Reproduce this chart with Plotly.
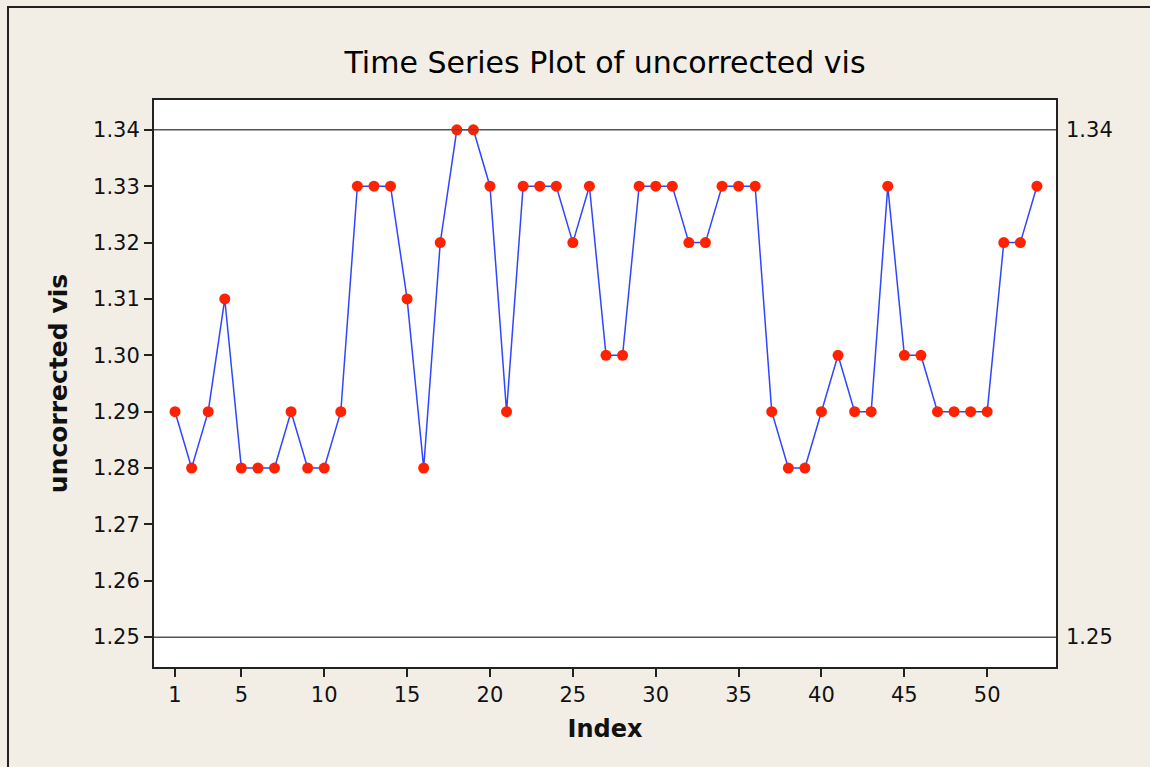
import plotly.graph_objects as go

index = list(range(1, 54))
values = [1.29, 1.28, 1.29, 1.31, 1.28, 1.28, 1.28, 1.29, 1.28, 1.28,
          1.29, 1.33, 1.33, 1.33, 1.31, 1.28, 1.32, 1.34, 1.34, 1.33,
          1.29, 1.33, 1.33, 1.33, 1.32, 1.33, 1.30, 1.30, 1.33, 1.33,
          1.33, 1.32, 1.32, 1.33, 1.33, 1.33, 1.29, 1.28, 1.28, 1.29,
          1.30, 1.29, 1.29, 1.33, 1.30, 1.30, 1.29, 1.29, 1.29, 1.29,
          1.32, 1.32, 1.33]
x_ticks = [1, 5, 10, 15, 20, 25, 30, 35, 40, 45, 50]
y_ticks = [1.25, 1.26, 1.27, 1.28, 1.29, 1.30, 1.31, 1.32, 1.33, 1.34]
ref_lines = [1.34, 1.25]

FONT = "DejaVu Sans"
BG = "#F2EEE6"

fig = go.Figure()
fig.add_trace(go.Scatter(
    x=index, y=values, mode="lines+markers",
    line=dict(color="#2F45FF", width=1.5),
    marker=dict(color="#FF2200", size=11, symbol="circle"),
    showlegend=False,
))

for r in ref_lines:
    fig.add_shape(type="line", xref="paper", x0=0, x1=1, yref="y", y0=r, y1=r,
                  line=dict(color="#555555", width=1.5))
    fig.add_annotation(xref="paper", x=1, xanchor="left", xshift=8,
                       yref="y", y=r, text=f"{r:.2f}", showarrow=False,
                       font=dict(family=FONT, size=21, color="#111111"))

# outer frame
fig.add_shape(type="rect", xref="paper", yref="paper",
              x0=(8 - 154) / 902, x1=(1170 - 154) / 902,
              y0=-(787 - 667) / 567, y1=1 + (100 - 7) / 567,
              line=dict(color="#222222", width=2), fillcolor="rgba(0,0,0,0)",
              layer="below")

fig.update_layout(
    width=1150, height=767,
    margin=dict(l=154, r=94, t=100, b=100),
    paper_bgcolor=BG, plot_bgcolor="white",
    title=dict(text="Time Series Plot of uncorrected vis", x=0.5, xanchor="center",
               xref="paper", y=1 - 62 / 767, yanchor="middle",
               font=dict(family=FONT, size=30, color="#000000")),
    xaxis=dict(range=[-0.27, 54.15], tickvals=x_ticks, ticks="outside", ticklen=8,
               tickcolor="#222222", tickwidth=1.5, showgrid=False, zeroline=False,
               showline=True, linecolor="#222222", linewidth=2, mirror=True,
               tickfont=dict(family=FONT, size=21, color="#111111"),
               title=dict(text="<b>Index</b>", standoff=14,
                          font=dict(family=FONT, size=24, color="#111111"))),
    yaxis=dict(range=[1.2447, 1.3453], tickvals=y_ticks, tickformat=".2f",
               ticks="outside", ticklen=8, tickcolor="#222222", tickwidth=1.5,
               showgrid=False, zeroline=False,
               showline=True, linecolor="#222222", linewidth=2, mirror=True,
               tickfont=dict(family=FONT, size=21, color="#111111"),
               title=dict(text="<b>uncorrected vis</b>", standoff=18,
                          font=dict(family=FONT, size=25, color="#111111"))),
)

fig.write_html("out.html", config={"displayModeBar": False},
               post_script="document.body.style.margin='0px';")
